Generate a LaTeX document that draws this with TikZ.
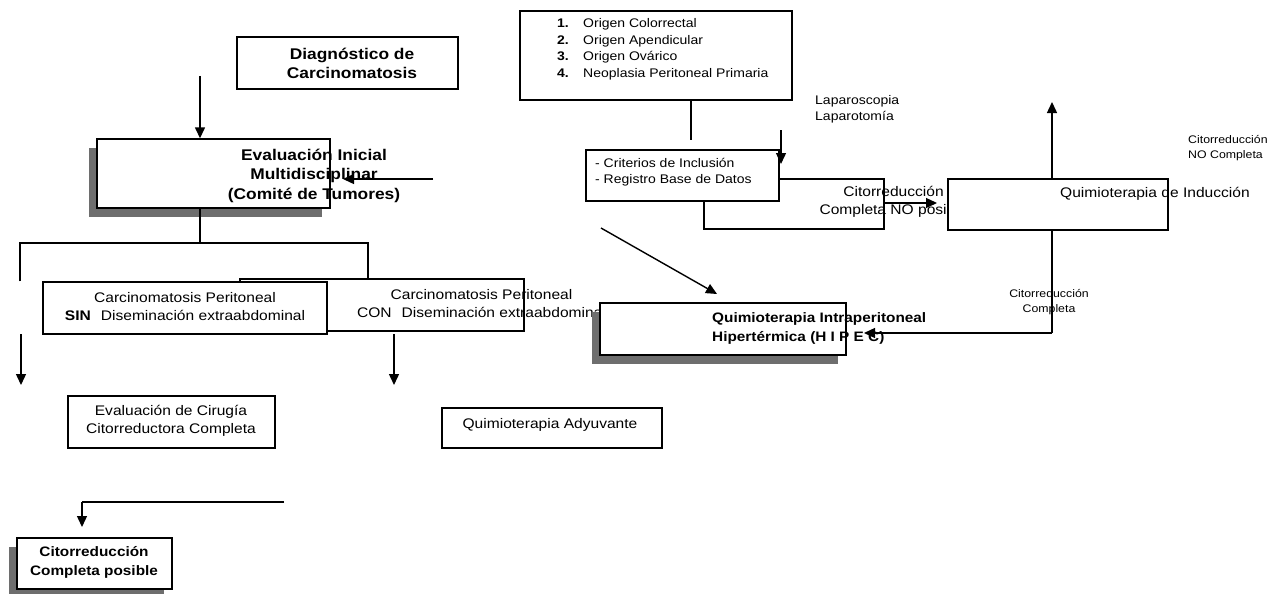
\documentclass[tikz,border=0pt]{standalone}
\usepackage{fontspec}
\setmainfont{Liberation Sans}[FakeStretch=1.12]
\usetikzlibrary{arrows.meta,shadows}
\definecolor{shadowgray}{HTML}{6E6E6E}
\newcommand{\fntBigBold}{\fontsize{15.5pt}{19.5pt}\selectfont\bfseries}
\newcommand{\fntMidBold}{\fontsize{13.7pt}{19pt}\selectfont\bfseries}
\newcommand{\fntReg}{\fontsize{13.9pt}{18pt}\selectfont}
\newcommand{\fntLab}{\fontsize{12.5pt}{16.5pt}\selectfont}
\newcommand{\fntSmall}{\fontsize{11pt}{14.5pt}\selectfont}
\begin{document}
\begin{tikzpicture}[x=1pt,y=-1pt,
  box/.style={draw=black, line width=1.4pt, fill=white, inner sep=0pt, rectangle},
  shbox/.style={box, drop shadow={shadow xshift=-8.5pt, shadow yshift=-8.5pt, fill=shadowgray, opacity=1}},
  ln/.style={line width=1.4pt},
  arr/.style={line width=1.4pt, -{Triangle[length=11pt,width=10pt]}},
  txt/.style={inner sep=0pt, align=center}]
\useasboundingbox (0,0) rectangle (1269,594);

% --- Diagnostico
\node[box, minimum width=221pt, minimum height=52pt] (diag) at (347.5,63) {};
\node[txt, font=\fntBigBold] (diagt) at (352,63.5) {Diagnóstico de\\Carcinomatosis};

% --- Evaluacion inicial
\node[shbox, minimum width=233pt, minimum height=69pt] (eval) at (213.5,173.5) {};
\node[txt, font=\fntBigBold] (evalt) at (314,175.5) {Evaluación Inicial\\Multidisciplinar\\(Comité de Tumores)};

% --- Origen list
\node[box, minimum width=272pt, minimum height=89pt] (list) at (656,55.5) {};
\node[txt, align=left, anchor=west, font=\fntLab] (listt) at (557,49.5)
  {\makebox[26pt][l]{\bfseries 1.}Origen Colorrectal\\
   \makebox[26pt][l]{\bfseries 2.}Origen Apendicular\\
   \makebox[26pt][l]{\bfseries 3.}Origen Ovárico\\
   \makebox[26pt][l]{\bfseries 4.}Neoplasia Peritoneal Primaria};

% --- Citorreduccion NO posible (behind criterios)
\node[box, minimum width=180pt, minimum height=50pt] (nop) at (794,204) {};
\node[txt, font=\fntReg] (nopt) at (893.5,202) {Citorreducción\\Completa NO posible};

% --- Criterios
\node[box, minimum width=193pt, minimum height=51pt] (crit) at (682.5,175.5) {};
\node[txt, align=left, anchor=west, font=\fntLab] (critt) at (595,172) {- Criterios de Inclusión\\- Registro Base de Datos};

% --- Induccion
\node[box, minimum width=220pt, minimum height=51pt] (ind) at (1058,204.5) {};
\node[txt, anchor=west, font=\fntReg] (indt) at (1060,194) {Quimioterapia de Inducción};

% --- labels
\node[txt, align=left, anchor=west, font=\fntLab] (lap) at (815,109.5) {Laparoscopia\\Laparotomía};
\node[txt, align=left, anchor=west, font=\fntSmall] (cnoc) at (1188,148) {Citorreducción\\NO Completa};
\node[txt, font=\fntSmall] (cc) at (1049,302) {Citorreducción\\Completa};

% --- CON / SIN
\node[box, minimum width=284pt, minimum height=52pt] (con) at (382,305) {};
\node[txt, font=\fntReg] (cont) at (481.5,304) {Carcinomatosis Peritoneal\\CON\hspace{10pt}Diseminación extraabdominal};
\node[box, minimum width=284pt, minimum height=52pt] (sin) at (185,308) {};
\node[txt, font=\fntReg] (sint) at (185,307) {Carcinomatosis Peritoneal\\\textbf{SIN}\hspace{10pt}Diseminación extraabdominal};

% --- HIPEC
\node[shbox, minimum width=246pt, minimum height=52pt] (hipec) at (723,329) {};
\node[txt, align=left, anchor=west, font=\fntMidBold] (hipect) at (712,328.5) {Quimioterapia Intraperitoneal\\Hipertérmica (H I P E C)};

% --- lower boxes
\node[box, minimum width=207pt, minimum height=52pt] (evc) at (171.5,422) {};
\node[txt, font=\fntReg] (evct) at (171,420.5) {\fontsize{13.9pt}{17pt}\selectfont Evaluación de Cirugía\\Citorreductora Completa};
\node[box, minimum width=220pt, minimum height=40pt] (ady) at (552,428) {};
\node[txt, font=\fntReg] (adyt) at (550,425) {Quimioterapia Adyuvante};
\node[shbox, minimum width=155pt, minimum height=51pt] (pos) at (94.5,563.5) {};
\node[txt, font=\fntMidBold] (post) at (94,562.5) {Citorreducción\\Completa posible};

% --- connector coordinates
\coordinate (d1) at (200,76);
\coordinate (m1) at (433,179);
\coordinate (m2) at (343,179);
\coordinate (j) at (200,243);
\coordinate (jl) at (20,243);
\coordinate (jr) at (368,243);
\coordinate (la1) at (21,334);
\coordinate (la2) at (21,385);
\coordinate (ma1) at (394,334);
\coordinate (ma2) at (394,385);
\coordinate (h1) at (284,502);
\coordinate (h2) at (82,502);
\coordinate (h3) at (82,527);
\coordinate (lv) at (691,140);
\coordinate (ld1) at (781,130);
\coordinate (ld2) at (781,164);
\coordinate (ra) at (937,203);
\coordinate (up) at (1052,102);
\coordinate (dn) at (1052,333);
\coordinate (hp) at (864,333);
\coordinate (dg1) at (601,228);
\coordinate (dg2) at (717,294);

% --- connectors
\draw[arr] (d1) -- (d1 |- eval.north);
\draw[arr] (m1) -- (m2);
\draw[ln] (eval.south -| j) -- (j);
\draw[ln] (jl |- sin.north) -- (jl) -- (jr) -- (jr |- con.north);
\draw[arr] (la1) -- (la2);
\draw[arr] (ma1) -- (ma2);
\draw[ln] (h1) -- (h2);
\draw[arr] (h2) -- (h3);
\draw[ln] (list.south -| lv) -- (lv);
\draw[arr] (ld1) -- (ld2);
\draw[arr] (nop.east |- ra) -- (ra);
\draw[arr] (ind.north -| up) -- (up);
\draw[ln] (ind.south -| dn) -- (dn);
\draw[arr] (dn) -- (hp);
\draw[arr] (dg1) -- (dg2);
\end{tikzpicture}
\end{document}
